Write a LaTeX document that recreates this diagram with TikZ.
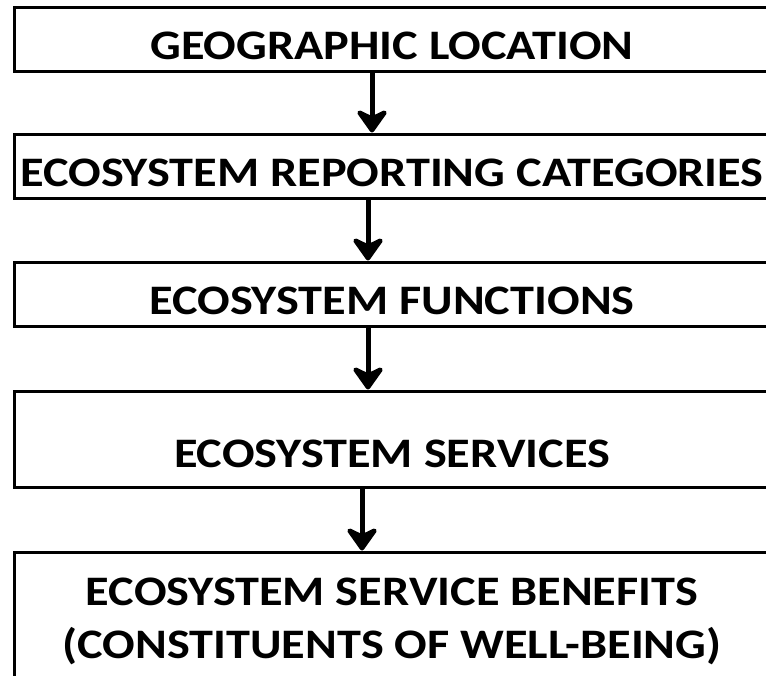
\documentclass[tikz,border=0pt]{standalone}
\usepackage{fontspec}
\setmainfont{Carlito}[FakeStretch=1.15]
\usetikzlibrary{arrows.meta,positioning}

\begin{document}
\begin{tikzpicture}[x=1pt,y=-1pt,
                    box/.style={draw,line width=3pt,minimum width=756pt,
                                inner xsep=0pt,inner ysep=0pt,
                                text height=52pt,text depth=12pt,
                                font=\fontsize{42}{53}\selectfont\bfseries},
                    flow/.style={-{Stealth[length=27pt,width=38pt,inset=9pt,round]},
                                line width=5pt}]

  	\clip (0,0) rectangle (766,675);

  	\node[box] (geo) at (392,39)                       	{GEOGRAPHIC LOCATION};
  	\node[box] (rep) [below=60pt of geo]               	{ECOSYSTEM REPORTING CATEGORIES};
  	\node[box] (fun) [below=61pt of rep]               	{ECOSYSTEM FUNCTIONS};
  	\node[box,text height=76pt,text depth=20pt] (ser) [below=62pt of fun]
  	                                                  	{ECOSYSTEM SERVICES};
  	\node[box,align=center,text height=106pt,text depth=57pt] (ben) [below=62pt of ser]
  	                                                  	{ECOSYSTEM SERVICE BENEFITS\\(CONSTITUENTS OF WELL-BEING)};

	\draw[flow] ([xshift=-20pt]geo.south) -- ([xshift=-20pt]rep.north);
	\draw[flow] ([xshift=-24pt]rep.south) -- ([xshift=-24pt]fun.north);
	\draw[flow] ([xshift=-24pt]fun.south) -- ([xshift=-24pt]ser.north);
	\draw[flow] ([xshift=-30pt]ser.south) -- ([xshift=-30pt]ben.north);

\end{tikzpicture}
\end{document}
